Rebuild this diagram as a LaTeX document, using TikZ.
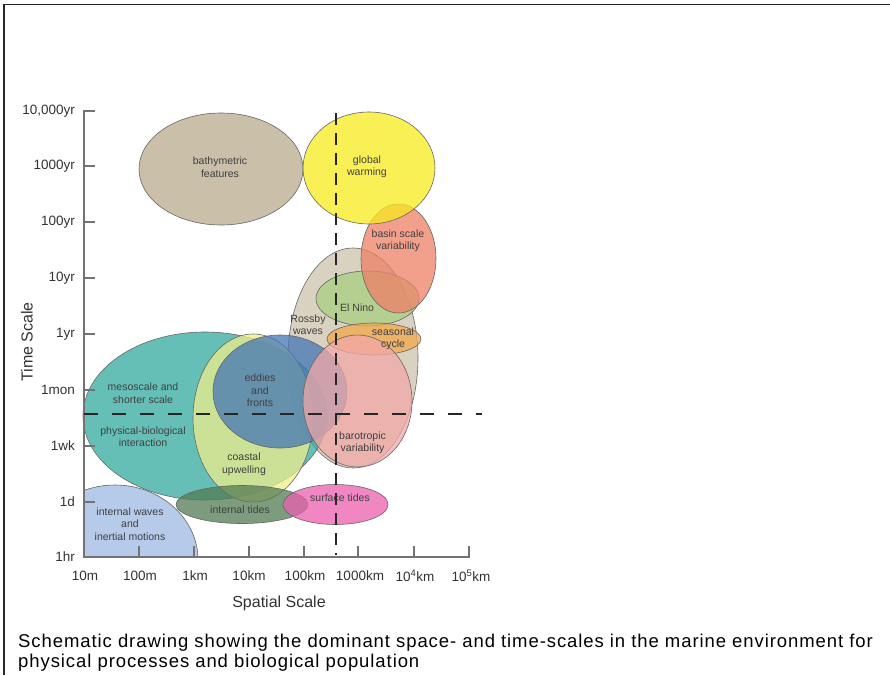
\documentclass[tikz,border=0pt]{standalone}
\usepackage{fontspec}
\setmainfont{Liberation Sans}
\begin{document}
\begin{tikzpicture}[x=1pt,y=-1pt,
  blob/.style={draw=black!60, line width=0.6pt, fill opacity=0.75},
  lbl/.style={align=center, inner sep=0pt, text=black!75, font=\fontsize{10.5}{12.5}\selectfont},
  axlab/.style={inner sep=0pt, text=black!80, font=\fontsize{13.5}{15}\selectfont},
  axline/.style={draw=black!55, line width=1.4pt},
  dashv/.style={draw=black!85, line width=1.6pt, dash pattern=on 12pt off 8pt},
  dashh/.style={draw=black!85, line width=1.6pt, dash pattern=on 14pt off 14pt}]
\definecolor{cbathy}{RGB}{202,192,170}
\definecolor{cgw}{RGB}{248,235,30}
\definecolor{cbasin}{RGB}{238,128,102}
\definecolor{crossby}{RGB}{206,195,171}
\definecolor{celnino}{RGB}{168,206,128}
\definecolor{cseason}{RGB}{242,168,75}
\definecolor{cbaro}{RGB}{242,168,168}
\definecolor{cteal}{RGB}{50,170,158}
\definecolor{ceddy}{RGB}{68,118,182}
\definecolor{ccoast}{RGB}{238,238,140}
\definecolor{citide}{RGB}{82,122,82}
\definecolor{cstide}{RGB}{235,95,175}
\definecolor{ciwave}{RGB}{158,185,228}
\useasboundingbox (0,0) rectangle (890,675);
\fill[white] (0,0) rectangle (890,675);
% frame
\draw[line width=1.5pt, draw=black!85] (4,675) -- (4,4.5) -- (890,4.5);

% ellipses, upper group
\filldraw[blob, fill=cbathy, fill opacity=1] (221,169) ellipse [x radius=82, y radius=56];
\filldraw[blob, fill=crossby] (353,358) ellipse [x radius=65, y radius=110];
\filldraw[blob, fill=celnino] (367.5,298.5) ellipse [x radius=51.5, y radius=27.5];
\filldraw[blob, fill=cbasin] (398.5,258.5) ellipse [x radius=37.5, y radius=54.5];
\filldraw[blob, fill=cgw] (369,168) ellipse [x radius=66, y radius=56];
\filldraw[blob, fill=cseason] (374,339) ellipse [x radius=47, y radius=16];
% lower group
\filldraw[blob, fill=cteal] (205,416) ellipse [x radius=122, y radius=84];
\filldraw[blob, fill=ccoast] (253,418) ellipse [x radius=60, y radius=84];
\filldraw[blob, fill=ceddy] (280,391.5) ellipse [x radius=67, y radius=56.5];
\filldraw[blob, fill=cbaro] (357.5,401) ellipse [x radius=54.5, y radius=66];
\filldraw[blob, fill=citide] (242,504.5) ellipse [x radius=66, y radius=19];
\filldraw[blob, fill=cstide] (335.5,504.5) ellipse [x radius=52.5, y radius=20];
\begin{scope}
  \clip (84,0) rectangle (890,557);
  \filldraw[blob, fill=ciwave] (115,560) ellipse [x radius=83, y radius=75];
\end{scope}

% axes
\draw[axline] (95,111) -- (84,111) -- (84,557) -- (469,557) -- (469,546);
\foreach \yy in {166,222,278,334,390,446,502} \draw[axline] (84,\yy) -- (95,\yy);
\foreach \xx in {139,194,249,304,358,414} \draw[axline] (\xx,557) -- (\xx,546);

% dashed lines
\coordinate (vtop) at (336,113);
\coordinate (vbot) at (336,555);
\coordinate (hl) at (84,414);
\coordinate (hr) at (482,414);
\draw[dashv] (vtop) -- (vbot);
\draw[dashh] (hl) -- (hr);

% labels in ellipses
\node[lbl] (bathy) at (220,167) {bathymetric\\features};
\node[lbl] (gw) at (367,167) {global\\warming};
\node[lbl] (basin) at (398,241) {basin scale\\variability};
\node[lbl, anchor=west] (elnino) at (340,308) {El Nino};
\node[lbl] (rossby) at (308,324.5) {Rossby\\waves};
\node[lbl] (season) at (393,339) {seasonal\\cycle};
\node[lbl] (meso) at (143,393) {mesoscale and\\shorter scale};
\node[lbl] (phys) at (143,436.5) {physical-biological\\interaction};
\node[lbl] (eddy) at (260,390.5) {eddies\\and\\fronts};
\node[lbl] (coast) at (244,464.5) {coastal\\upwelling};
\node[lbl, anchor=west] (baro) at (339,443) {barotropic\\variability};
\node[lbl] (stide) at (340,498) {surface tides};
\node[lbl] (itide) at (240,510) {internal tides};
\node[lbl] (iwave) at (130,524) {internal waves\\and\\inertial motions};

% axis labels
\foreach \yy/\t [count=\i] in {111/{10,000yr},166/1000yr,222/100yr,278/10yr,334/1yr,390/1mon,446/1wk,502/1d,557/1hr}
  \node[axlab, anchor=east] (ylab\i) at (75,\yy) {\t};
\foreach \xx/\t [count=\i] in {85/10m,140/100m,195/1km,249/10km,305/100km,360/1000km,415/10\textsuperscript{4}km,471/10\textsuperscript{5}km}
  \node[axlab] (xlab\i) at (\xx,576) {\t};
\node[rotate=90, inner sep=0pt, text=black!80, font=\fontsize{16}{18}\selectfont] (ttl) at (27,342) {Time Scale};
\node[inner sep=0pt, text=black!80, font=\fontsize{16}{18}\selectfont] (stl) at (279,603) {Spatial Scale};

% caption
\node[anchor=north west, inner sep=0pt, align=left, font=\fontsize{18.5}{19.5}\selectfont\addfontfeatures{LetterSpace=5}] (cap) at (18,634)
  {Schematic drawing showing the dominant space- and time-scales in the marine environment for\\physical processes and biological population};
\end{tikzpicture}
\end{document}
